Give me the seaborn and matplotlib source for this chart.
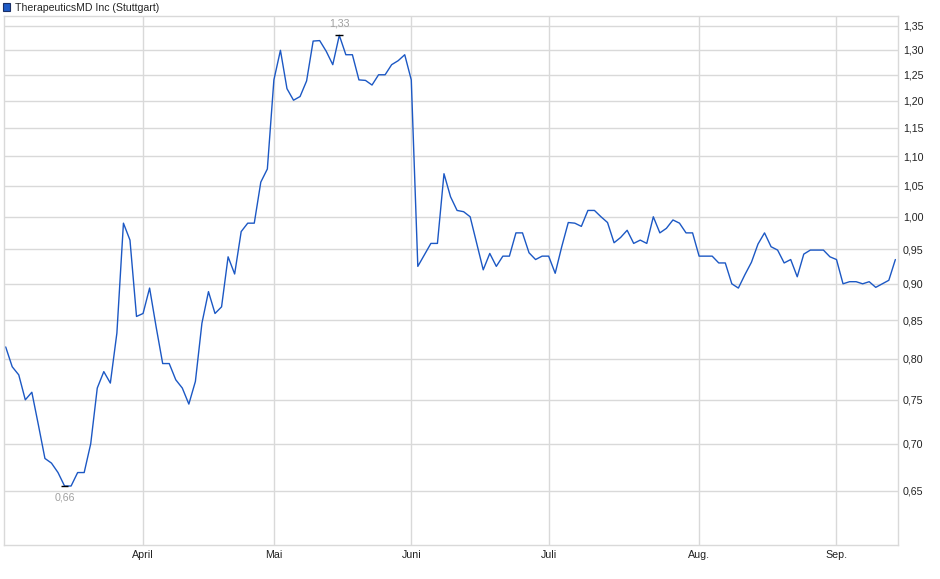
import numpy as np
import pandas as pd
import seaborn as sns
import matplotlib.pyplot as plt
from matplotlib.patches import Patch
from matplotlib.ticker import FixedLocator, FuncFormatter, NullLocator

# daily closing prices (trading days)
prices = [
    0.815, 0.790, 0.780, 0.750, 0.759, 0.721, 0.684, 0.679, 0.669, 0.655,
    0.655, 0.669, 0.669, 0.700, 0.764, 0.784, 0.770, 0.833, 0.990, 0.964,
    0.855, 0.859, 0.894, 0.841, 0.794, 0.794, 0.774, 0.764, 0.745, 0.772,
    0.846, 0.889, 0.859, 0.868, 0.939, 0.914, 0.977, 0.990, 0.990, 1.056,
    1.078, 1.240, 1.299, 1.223, 1.201, 1.208, 1.238, 1.318, 1.319, 1.297,
    1.270, 1.330, 1.290, 1.290, 1.240, 1.239, 1.230, 1.250, 1.250, 1.270,
    1.278, 1.290, 1.240, 0.925, 0.942, 0.959, 0.959, 1.070, 1.032, 1.010,
    1.008, 1.000, 0.959, 0.920, 0.944, 0.925, 0.940, 0.940, 0.975, 0.975,
    0.945, 0.935, 0.940, 0.940, 0.915, 0.954, 0.991, 0.990, 0.985, 1.010,
    1.010, 1.000, 0.991, 0.960, 0.968, 0.979, 0.959, 0.964, 0.959, 1.000,
    0.975, 0.982, 0.995, 0.990, 0.975, 0.975, 0.940, 0.940, 0.940, 0.930,
    0.930, 0.900, 0.894, 0.913, 0.931, 0.958, 0.975, 0.954, 0.949, 0.930,
    0.935, 0.910, 0.943, 0.949, 0.949, 0.949, 0.939, 0.935, 0.900, 0.903,
    0.903, 0.900, 0.903, 0.895, 0.900, 0.905, 0.935,
]
month_idx = [21, 41, 62, 83, 106, 127]
month_labels = ["April", "Mai", "Juni", "Juli", "Aug.", "Sep."]
ytick_values = [0.65, 0.70, 0.75, 0.80, 0.85, 0.90, 0.95, 1.00,
                1.05, 1.10, 1.15, 1.20, 1.25, 1.30, 1.35]
series_name = "TherapeuticsMD Inc (Stuttgart)"

LINE = "#1c58c4"
GRID = "#d9d9d9"

sns.set_style("white")
plt.rcParams["font.family"] = ["Liberation Sans", "DejaVu Sans"]

df = pd.DataFrame({"day": np.arange(len(prices)), "price": prices})

fig = plt.figure(figsize=(9.4, 5.79), dpi=100)
ax = fig.add_axes([0.0043, 0.0587, 0.9510, 0.9137])

sns.lineplot(data=df, x="day", y="price", ax=ax, color=LINE, linewidth=1.0)

ax.set_yscale("log")
ax.set_ylim(0.597, 1.371)
ax.set_xlim(-0.25, 136.4)

ax.yaxis.set_major_locator(FixedLocator(ytick_values))
ax.yaxis.set_minor_locator(NullLocator())
ax.yaxis.set_major_formatter(FuncFormatter(lambda v, _: f"{v:.2f}".replace(".", ",")))
ax.yaxis.tick_right()
ax.tick_params(axis="y", length=0, pad=3.5, labelsize=7.7, labelcolor="#222222")

ax.set_xticks(month_idx)
ax.set_xticklabels(month_labels)
ax.tick_params(axis="x", length=0, pad=3.5, labelsize=7.7, labelcolor="#222222")

ax.grid(True, color=GRID, linewidth=1.0)
for s in ax.spines.values():
    s.set_color(GRID)
    s.set_linewidth(1.0)
ax.set_xlabel("")
ax.set_ylabel("")

# max / min markers
imax = int(np.argmax(prices))
imin = int(np.argmin(prices))
for i, off, va in [(imax, 5, "bottom"), (imin, -5, "top")]:
    v = prices[i]
    ax.hlines(v, i - 0.6, i + 0.6, color="black", linewidth=1.0)
    ax.annotate(f"{v:.2f}".replace(".", ","), (i, v), xytext=(0, off),
                textcoords="offset points", ha="center", va=va,
                fontsize=7.7, color="#a0a0a0")

leg_handle = Patch(facecolor="#1f5bc6", edgecolor="#1b2f66", linewidth=0.8)
fig.legend([leg_handle], [series_name], loc="upper left", bbox_to_anchor=(-0.004, 1.006),
           frameon=False, fontsize=7.6, handlelength=0.75, handleheight=0.75,
           handletextpad=0.4, borderaxespad=0.2)

fig.savefig("out.png", dpi=100, facecolor="white")
